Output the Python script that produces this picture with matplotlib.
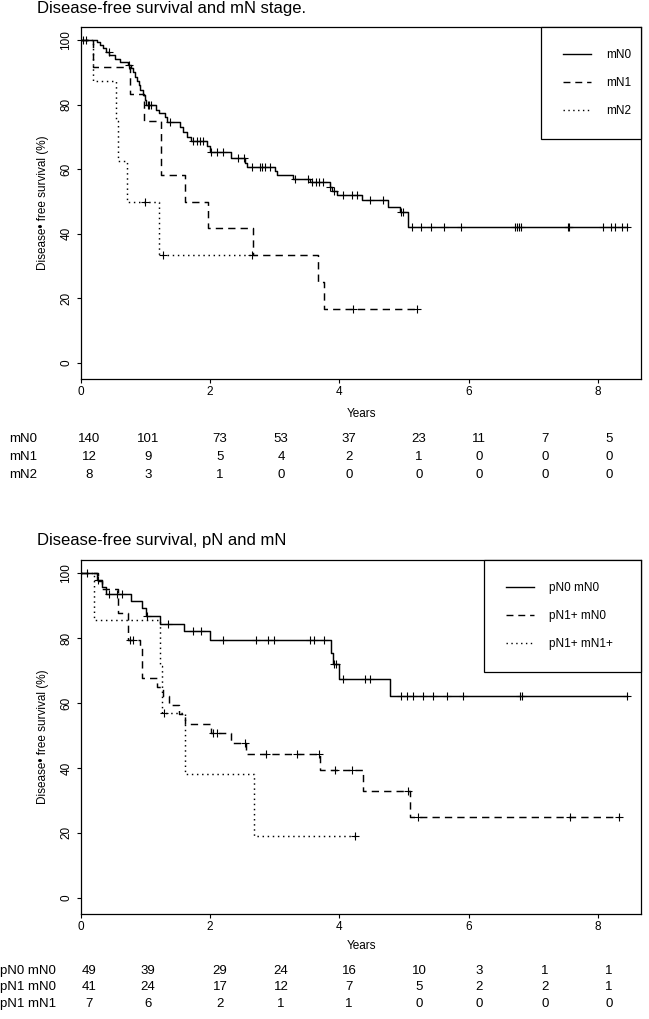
import numpy as np
import matplotlib.pyplot as plt
from matplotlib.lines import Line2D

plt.rcParams['font.family'] = ['Liberation Sans', 'DejaVu Sans']

# ---- top panel: mN stage (event times in years, survival % after each event)
mn0_t = [0.24, 0.29, 0.34, 0.39, 0.44, 0.52, 0.60, 0.73, 0.77, 0.80, 0.84, 0.87,
         0.90, 0.92, 0.96, 0.99, 1.01, 1.16, 1.20, 1.30, 1.33, 1.53, 1.58, 1.64,
         1.70, 1.95, 1.99, 2.33, 2.54, 2.57, 3.00, 3.03, 3.28, 3.54, 3.85, 3.88,
         3.96, 4.35, 4.76, 4.94, 5.06]
mn0_s = [99.3, 98.5, 97.5, 96.5, 95.4, 94.1, 93.1, 92.3, 91.3, 90.0, 88.7, 87.5,
         86.1, 84.6, 83.0, 81.5, 80.0, 78.4, 77.4, 76.1, 74.8, 73.2, 71.7, 70.0,
         68.8, 67.3, 65.5, 63.4, 61.9, 60.8, 59.5, 58.3, 57.0, 56.2, 54.4, 53.4,
         52.1, 50.5, 48.4, 46.9, 42.0]
mn0_c = [0.03, 0.07, 0.43, 0.74, 1.03, 1.06, 1.09, 1.38, 1.74, 1.79, 1.84, 1.89,
         2.02, 2.10, 2.20, 2.43, 2.53, 2.64, 2.77, 2.80, 2.85, 2.93, 3.31, 3.52,
         3.57, 3.64, 3.69, 3.74, 3.86, 3.91, 4.06, 4.19, 4.27, 4.47, 4.68, 4.95,
         4.98, 5.12, 5.26, 5.42, 5.62, 5.88, 6.72, 6.75, 6.78, 6.81, 7.54, 7.56,
         8.08, 8.21, 8.26, 8.37, 8.45]

mn1_t = [0.18, 0.76, 0.98, 1.24, 1.61, 1.97, 2.66, 3.67, 3.76]
mn1_s = [91.7, 83.3, 75.0, 58.3, 50.0, 41.7, 33.3, 25.0, 16.7]
mn1_c = [4.21, 5.20]

mn2_t = [0.19, 0.54, 0.57, 0.71, 1.21]
mn2_s = [87.5, 75.0, 62.5, 50.0, 33.3]
mn2_c = [0.99, 1.27, 2.64]

# ---- bottom panel: pN and mN
p0m0_t = [0.25, 0.33, 0.38, 0.78, 0.95, 1.00, 1.22, 1.60, 1.99, 3.87, 3.90, 3.99, 4.78]
p0m0_s = [97.9, 95.8, 93.7, 91.5, 89.3, 86.9, 84.5, 82.2, 79.4, 75.5, 72.0, 67.5, 62.1]
p0m0_c = [0.09, 0.26, 0.44, 0.56, 0.63, 1.02, 1.35, 1.74, 1.86, 2.20, 2.71, 2.89,
          2.99, 3.54, 3.60, 3.76, 3.92, 3.95, 4.06, 4.40, 4.47, 4.96, 5.05, 5.14,
          5.29, 5.45, 5.66, 5.91, 6.80, 6.83, 8.45]

p1m0_t = [0.26, 0.33, 0.58, 0.72, 0.91, 0.95, 1.18, 1.27, 1.37, 1.52, 1.61, 2.02,
          2.33, 2.56, 3.70, 4.36, 5.09]
p1m0_s = [97.6, 95.1, 87.8, 79.4, 76.9, 67.8, 64.9, 62.1, 59.3, 56.5, 53.6, 50.7,
          47.6, 44.4, 39.4, 33.0, 24.8]
p1m0_c = [0.76, 0.80, 2.05, 2.10, 2.54, 2.87, 3.34, 3.68, 3.93, 4.19, 5.07, 5.22,
          7.57, 8.33]

p1m1_t = [0.20, 1.22, 1.25, 1.61, 2.68]
p1m1_s = [85.7, 71.4, 57.1, 38.1, 19.05]
p1m1_c = [1.28, 4.24]

# ---- numbers at risk (years 0..8)
top_rows = ["mN0", "mN1", "mN2"]
top_risk = [[140, 101, 73, 53, 37, 23, 11, 7, 5],
            [12, 9, 5, 4, 2, 1, 0, 0, 0],
            [8, 3, 1, 0, 0, 0, 0, 0, 0]]
bot_rows = ["pN0 mN0", "pN1 mN0", "pN1 mN1"]
bot_risk = [[49, 39, 29, 24, 16, 10, 3, 1, 1],
            [41, 24, 17, 12, 7, 5, 2, 2, 1],
            [7, 6, 2, 1, 1, 0, 0, 0, 0]]

W, H = 649, 1019
STYLES = [dict(ls='-'), dict(ls=(0, (5, 3.5))), dict(ls=(0, (1, 2.5)))]


def km_draw(ax, t, s, cens, style):
    t_all = sorted(t + cens)
    end = max(t_all)
    x = [0.0] + list(t) + [end]
    y = [100.0] + list(s) + [s[-1]]
    ax.step(x, y, where='post', color='black', lw=1.05, **style)
    # survival at censoring times
    tt = np.array(t)
    ss = np.array([100.0] + list(s))
    cy = ss[np.searchsorted(tt, np.array(cens), side='right')]
    ax.plot(cens, cy, ls='none', marker='+', color='black', ms=6, mew=0.8)


def panel(rect, curves, labels, leg_w, title, title_y, rows, risk, row_y):
    ax = fig.add_axes(rect)
    for (t, s, c), st in zip(curves, STYLES):
        km_draw(ax, t, s, c, st)
    ax.set_xlim(0, 8.67)
    ax.set_ylim(-5, 104.1)
    ax.set_xticks([0, 2, 4, 6, 8])
    ax.set_yticks([0, 20, 40, 60, 80, 100])
    ax.tick_params(direction='out', length=3.2, width=0.8, labelsize=8.5, pad=2)
    ax.tick_params(axis='y', pad=3)
    for lab in ax.get_yticklabels():
        lab.set_rotation(90)
        lab.set_va('center')
    for sp in ax.spines.values():
        sp.set_linewidth(0.9)

    handles = [Line2D([], [], color='black', lw=1.0, **st) for st in STYLES]
    ax.legend(handles, labels, loc='upper right', bbox_to_anchor=(1 - leg_w, 0, leg_w, 1),
              mode='expand', borderaxespad=0, fancybox=False, edgecolor='black',
              framealpha=1, fontsize=8.5, handlelength=2.4, handletextpad=1.25,
              labelspacing=1.35, borderpad=1.85)
    ax.get_legend().get_frame().set_linewidth(0.9)

    fig.text(37 / W, 1 - title_y / H, title, fontsize=12, ha='left', va='center')
    x0, y0, w, h = rect
    fig.text(43 / W, y0 + h / 2, "Disease\u2022 free survival (%)", rotation=90,
             fontsize=8.5, ha='center', va='center')
    fig.text(x0 + w / 2, 1 - (row_y[0] - 25) / H, "Years", fontsize=8.5,
             ha='center', va='center')
    for name, vals, ry, rx in zip(rows, risk, row_y, row_x):
        fig.text(rx / W, 1 - ry / H, name, fontsize=9.5, ha='left', va='center')
        for v, cx in zip(vals, col_x):
            fig.text(cx / W, 1 - ry / H, str(v), fontsize=9.5, ha='center', va='center')
    return ax


col_x = [89, 148, 220, 281, 349, 419, 479, 545, 609]

fig = plt.figure(figsize=(W / 100, H / 100), dpi=100)

row_x = [9, 9, 9]
panel([81 / W, 1 - 379 / H, 560 / W, 352 / H],
      [(mn0_t, mn0_s, mn0_c), (mn1_t, mn1_s, mn1_c), (mn2_t, mn2_s, mn2_c)],
      ["mN0", "mN1", "mN2"], 100 / 560,
      "Disease-free survival and mN stage.", 8, top_rows, top_risk, [439, 457, 475])

row_x = [0.5, 0.5, 0.5]
panel([81 / W, 1 - 914 / H, 560 / W, 354 / H],
      [(p0m0_t, p0m0_s, p0m0_c), (p1m0_t, p1m0_s, p1m0_c), (p1m1_t, p1m1_s, p1m1_c)],
      ["pN0 mN0", "pN1+ mN0", "pN1+ mN1+"], 157 / 560,
      "Disease-free survival, pN and mN", 541, bot_rows, bot_risk, [971, 987, 1004])

fig.savefig("out.png", dpi=100)
